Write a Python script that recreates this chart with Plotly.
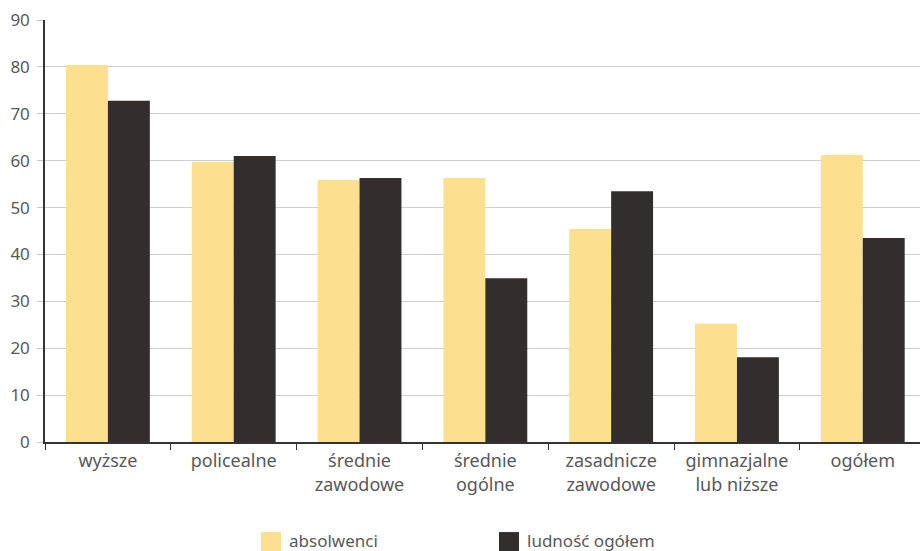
import plotly.graph_objects as go

categories = ["wyższe", "policealne", "średnie<br>zawodowe", "średnie<br>ogólne",
              "zasadnicze<br>zawodowe", "gimnazjalne<br>lub niższe", "ogółem"]
series_names = ["absolwenci", "ludność ogółem"]
absolwenci = [80.4, 59.7, 55.9, 56.3, 45.4, 25.2, 61.2]
ludnosc = [72.8, 61.0, 56.3, 34.9, 53.5, 18.1, 43.5]
y_ticks = [0, 10, 20, 30, 40, 50, 60, 70, 80, 90]

colors = ["#FDE08F", "#332E2E"]
font_family = "Noto Sans, Open Sans, sans-serif"
text_color = "#58595b"

fig = go.Figure()
for name, vals, col in zip(series_names, [absolwenci, ludnosc], colors):
    fig.add_trace(go.Bar(x=categories, y=vals, name=name, marker_color=col,
                         marker_line_width=0, showlegend=False))

PLOT_TOP, PLOT_BOTTOM, PLOT_LEFT = 20, 441.7, 45
PH = PLOT_BOTTOM - PLOT_TOP
PW = 920 - PLOT_LEFT

fig.update_layout(
    width=920, height=551,
    margin=dict(l=PLOT_LEFT, r=0, t=PLOT_TOP, b=551 - PLOT_BOTTOM, autoexpand=False),
    paper_bgcolor="white", plot_bgcolor="white",
    barmode="group", bargap=1/3, bargroupgap=0,
    font=dict(family=font_family, size=18, color=text_color),
)
fig.update_xaxes(
    type="category", range=[-0.5, 6.455], automargin=False,
    showline=True, linecolor="#333333", linewidth=1.5,
    ticks="outside", tickson="boundaries", ticklen=6, tickcolor="#333333", tickwidth=1.2,
    showgrid=False, tickfont=dict(size=18, color=text_color), ticklabelstandoff=2,
)
fig.update_yaxes(
    range=[0, 90], tickvals=y_ticks, automargin=False,
    showline=True, linecolor="#333333", linewidth=1.5,
    ticks="outside", ticklen=6, tickcolor="#c8c8c8", tickwidth=1.2,
    showgrid=True, gridcolor="#cfcfcf", gridwidth=1.2, zeroline=False,
    tickfont=dict(size=17, color=text_color), ticklabelstandoff=4,
)

# legend drawn manually (large square swatches)
legend_x = [261, 499]
for name, col, lx in zip(series_names, colors, legend_x):
    fig.add_shape(type="rect", xref="paper", yref="paper",
                  x0=(lx - PLOT_LEFT) / PW, x1=(lx + 20 - PLOT_LEFT) / PW,
                  y0=-(552 - PLOT_BOTTOM) / PH, y1=-(531.7 - PLOT_BOTTOM) / PH,
                  fillcolor=col, line_width=0)
    fig.add_annotation(text=name, xref="paper", yref="paper",
                       x=(lx + 26 - PLOT_LEFT) / PW, y=-(540 - PLOT_BOTTOM) / PH,
                       xanchor="left", yanchor="middle", showarrow=False,
                       font=dict(size=17, color=text_color))

fig.write_html("out.html", config={"displayModeBar": False},
               post_script="document.body.style.margin='0';document.body.style.overflow='hidden';")
